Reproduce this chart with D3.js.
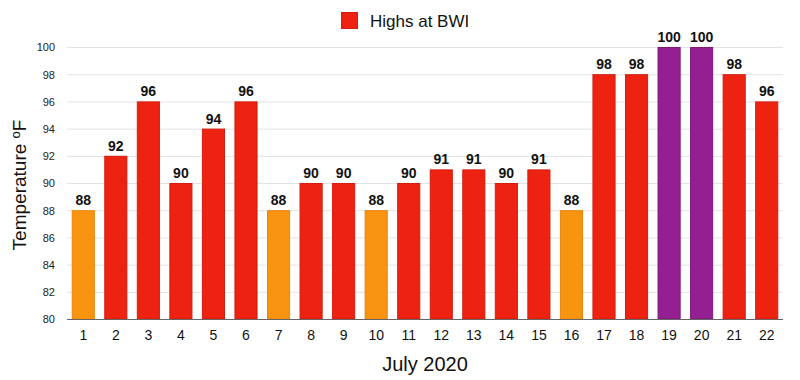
<!DOCTYPE html>
<html>
<head>
<meta charset="utf-8">
<script src="https://cdn.jsdelivr.net/npm/d3@7"></script>
<style>
  body { margin: 0; background: #fff; }
  svg { font-family: "Liberation Sans", Arial, Helvetica, sans-serif; }
</style>
</head>
<body>
<svg width="800" height="380"></svg>
<script>
const width = 800;
const height = 380;

// July 2020 daily highs at BWI
const days = ["1","2","3","4","5","6","7","8","9","10","11","12","13","14","15","16","17","18","19","20","21","22"];
const highs = [88, 92, 96, 90, 94, 96, 88, 90, 90, 88, 90, 91, 91, 90, 91, 88, 98, 98, 100, 100, 98, 96];
const yTicks = [80, 82, 84, 86, 88, 90, 92, 94, 96, 98, 100];

const data = days.map((d, i) => ({ day: d, value: highs[i] }));

const colorOf = v => v >= 100 ? "#931f90" : (v <= 88 ? "#f8940f" : "#ee2211");
const strokeOf = v => v >= 100 ? "#7d1a7a" : (v <= 88 ? "#e8860a" : "#d41c0f");

const margin = { top: 47, right: 17, bottom: 61, left: 67 };

const x = d3.scaleBand()
  .domain(days)
  .range([margin.left, width - margin.right])
  .paddingInner(0.29)
  .paddingOuter(0.145);

const y = d3.scaleLinear()
  .domain([80, 100])
  .range([height - margin.bottom, margin.top]);

const svg = d3.select("svg");

// gridlines
svg.append("g")
  .selectAll("line")
  .data(yTicks.slice(1))
  .join("line")
  .attr("x1", margin.left)
  .attr("x2", width - margin.right)
  .attr("y1", d => y(d) + 0.5)
  .attr("y2", d => y(d) + 0.5)
  .attr("stroke", "#e3e3e3")
  .attr("stroke-width", 1);

// y axis labels
const yAxis = svg.append("g")
  .attr("transform", `translate(${margin.left - 12},0)`)
  .call(d3.axisLeft(y).tickValues(yTicks).tickSize(0).tickPadding(0));
yAxis.select(".domain").remove();
yAxis.selectAll("text")
  .attr("font-size", 11)
  .attr("fill", "#222")
  .attr("dy", "0.35em");

// bars
svg.append("g")
  .selectAll("rect")
  .data(data)
  .join("rect")
  .attr("x", d => x(d.day) + 0.5)
  .attr("y", d => y(d.value) + 0.5)
  .attr("width", x.bandwidth() - 1)
  .attr("height", d => y(80) - y(d.value) - 0.5)
  .attr("fill", d => colorOf(d.value))
  .attr("stroke", d => strokeOf(d.value))
  .attr("stroke-width", 1);

// value labels
svg.append("g")
  .selectAll("text")
  .data(data)
  .join("text")
  .attr("x", d => x(d.day) + x.bandwidth() / 2)
  .attr("y", d => y(d.value) - 5)
  .attr("text-anchor", "middle")
  .attr("font-size", 14)
  .attr("font-weight", "bold")
  .attr("fill", "#111")
  .text(d => d.value);

// x axis
const xAxis = svg.append("g")
  .attr("transform", `translate(0,${y(80)})`)
  .call(d3.axisBottom(x).tickSize(0).tickPadding(0));
xAxis.select(".domain")
  .attr("stroke", "#666")
  .attr("stroke-width", 1.2)
  .attr("d", `M${margin.left},0.5H${width - margin.right}`);
xAxis.selectAll("text")
  .attr("font-size", 14)
  .attr("fill", "#111")
  .attr("dy", null)
  .attr("y", 21);

// axis titles
svg.append("text")
  .attr("x", (margin.left + width - margin.right) / 2)
  .attr("y", 371)
  .attr("text-anchor", "middle")
  .attr("font-size", 20)
  .attr("fill", "#111")
  .text("July 2020");

const yTitle = svg.append("text")
  .attr("transform", `translate(26,185) rotate(-90)`)
  .attr("text-anchor", "middle")
  .attr("font-size", 19)
  .attr("fill", "#111");
yTitle.append("tspan").text("Temperature ");
yTitle.append("tspan").attr("font-size", 13).attr("dy", -6).text("o");
yTitle.append("tspan").attr("dy", 6).text("F");

// legend
const legend = svg.append("g");
legend.append("rect")
  .attr("x", 341.5)
  .attr("y", 12.5)
  .attr("width", 16)
  .attr("height", 16)
  .attr("fill", "#ee2211")
  .attr("stroke", "#d41c0f");
legend.append("text")
  .attr("x", 370)
  .attr("y", 27)
  .attr("font-size", 17)
  .attr("fill", "#111")
  .text("Highs at BWI");
</script>
</body>
</html>
